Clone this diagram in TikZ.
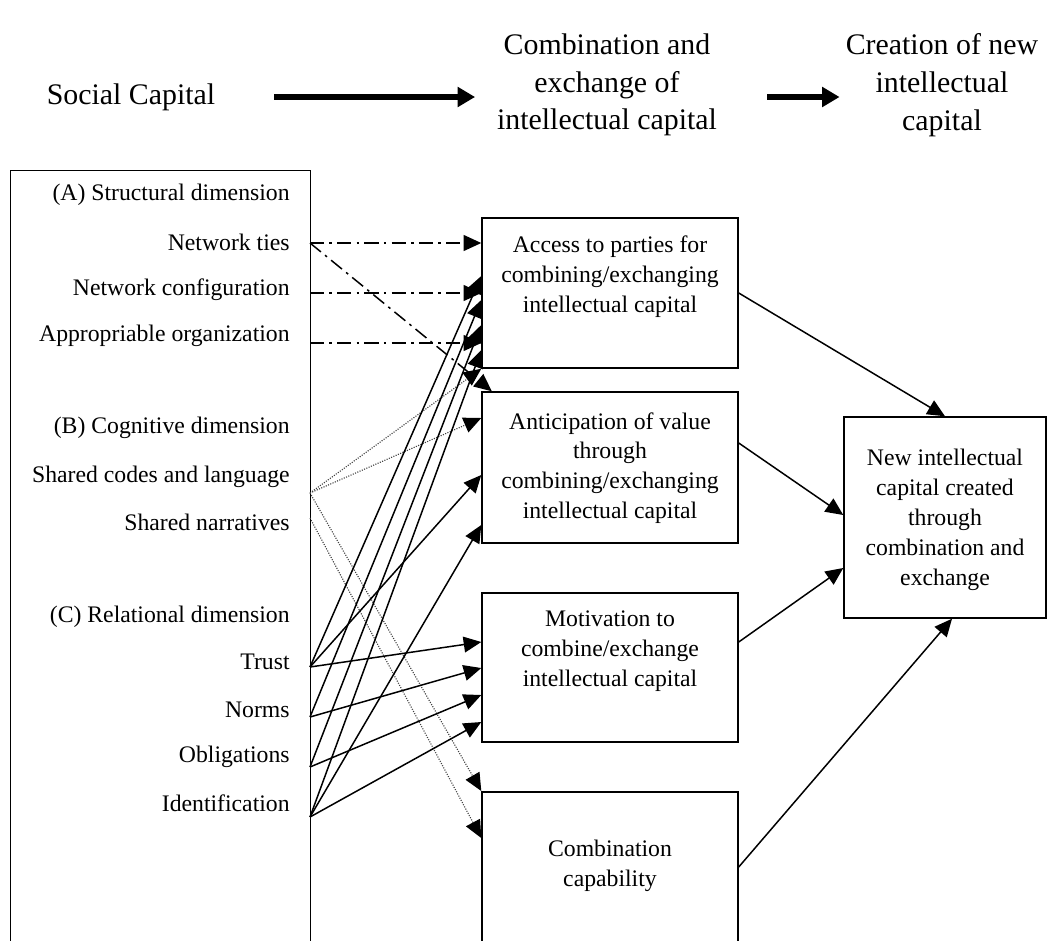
\documentclass[tikz,border=0pt]{standalone}
\usepackage{fontspec}
\setmainfont{Liberation Serif}
\usetikzlibrary{arrows.meta}

\tikzset{
	box/.style={shape=rectangle, draw=black, line width=0.85pt, minimum width=5.12cm, inner sep=0pt},
	lbl/.style={anchor=east, inner sep=0pt, font=\fontsize{13.5}{17}\selectfont},
	txt/.style={align=center, font=\fontsize{13.5}{17}\selectfont},
	head/.style={align=center, font=\fontsize{17}{21.5}\selectfont},
	link/.style={line width=0.85pt, -{Triangle[length=10pt,width=9pt]}},
	struct/.style={link, dash pattern=on 8pt off 3pt on 1.5pt off 3pt},
	cogn/.style={line width=0.65pt, black!75, dash pattern=on 0.6pt off 0.8pt, -{Triangle[length=10pt,width=9pt,color=black,fill=black]}},
	flow/.style={line width=3.2pt, -{Triangle[length=10pt,width=11pt]}}
}

\begin{document}
\begin{tikzpicture}[x=0.02cm, y=-0.02cm]
	\useasboundingbox (0,0) rectangle (1051,940);
	\clip (0,0) rectangle (1051,940);

	% headline
	\node[head] (sc) at (131,97) {Social Capital};
	\node[head] (cx) at (607,85) {Combination and\\exchange of\\intellectual capital};
	\node[head] (cn) at (942,85) {Creation of new\\intellectual\\capital};
	\path[flow, shorten <=30pt, shorten >=9pt] (sc.east) edge (sc.east -| cx.west);
	\path[flow, shorten <=25pt] (cx.east |- sc.east) edge (cn.west |- sc.east);

	% social capital dimensions
	\node[box, minimum width=6cm, minimum height=17cm, anchor=north west] (scbox) at (10,170) {};
	\node[lbl] (dima)   at (290,195) {(A) Structural dimension};
	\node[lbl] (tiesl)  at (290,242) {Network ties};
	\node[lbl] (confl)  at (290,290) {Network configuration};
	\node[lbl] (apprl)  at (290,336) {Appropriable organization};
	\node[lbl] (dimb)   at (290,428) {(B) Cognitive dimension};
	\node[lbl] (codesl) at (290,477) {Shared codes and language};
	\node[lbl] (narrl)  at (290,522) {Shared narratives};
	\node[lbl] (dimc)   at (290,617) {(C) Relational dimension};
	\node[lbl] (trustl) at (290,662) {Trust};
	\node[lbl] (normsl) at (290,710) {Norms};
	\node[lbl] (oblil)  at (290,757) {Obligations};
	\node[lbl] (identl) at (290,803) {Identification};

	\coordinate (ties)  at (310,243);
	\coordinate (conf)  at (310,293);
	\coordinate (appr)  at (310,343);
	\coordinate (codes) at (310,493);
	\coordinate (narr)  at (310,518);
	\coordinate (trust) at (310,667);
	\coordinate (norms) at (310,717);
	\coordinate (obli)  at (310,767);
	\coordinate (ident) at (310,817);

	% combination and exchange
	\node[box, minimum height=3cm]    (access) at (610,293) {};
	\node[box, minimum height=3.02cm] (antic)  at (610,467.5) {};
	\node[box, minimum height=2.98cm] (motiv)  at (610,667.5) {};
	\node[box, minimum height=4cm, anchor=north] (comb) at (610,791) {};
	\node[txt] (accesst) at (610,277) {Access to parties for\\combining/exchanging\\intellectual capital};
	\node[txt] (antict)  at (610,468) {Anticipation of value\\through\\combining/exchanging\\intellectual capital};
	\node[txt] (motivt)  at (610,651) {Motivation to\\combine/exchange\\intellectual capital};
	\node[txt] (combt)   at (610,866) {Combination\\capability};

	% new intellectual capital
	\node[box, minimum width=4.04cm, minimum height=4.02cm] (newic) at (945,517.5) {};
	\node[txt] (newict) at (945,520) {New intellectual\\capital created\\through\\combination and\\exchange};

	% structural links
	\path[struct] (ties) edge (access.west |- ties);
	\path[struct] (conf) edge (access.west |- conf);
	\path[struct] (appr) edge (access.west |- appr);
	\path[struct] (ties) edge ([xshift=6pt]antic.north west);

	% cognitive links
	\path[cogn] (codes) edge (access.south west);
	\path[cogn] (codes) edge (antic.west |- 0,418);
	\path[cogn] (codes) edge (comb.north west);
	\path[cogn] (narr) edge (comb.west |- 0,838);

	% relational links
	\path[link] (trust) edge (access.west |- 0,276);
	\path[link] (trust) edge (antic.west |- 0,475);
	\path[link] (trust) edge (motiv.west |- 0,642);
	\path[link] (norms) edge (access.west |- 0,300);
	\path[link] (norms) edge (motiv.west |- 0,668);
	\path[link] (obli) edge (access.west |- 0,325);
	\path[link] (obli) edge (motiv.west |- 0,695);
	\path[link] (ident) edge (access.west |- 0,350);
	\path[link] (ident) edge (antic.west |- 0,525);
	\path[link] (ident) edge (motiv.west |- 0,722);

	% into new intellectual capital
	\path[link] (access.east) edge (newic.north);
	\path[link] (antic.east |- 0,443) edge (newic.west |- 0,515);
	\path[link] (motiv.east |- 0,642) edge (newic.west |- 0,568);
	\path[link] (comb.east |- 0,867) edge ([xshift=4pt]newic.south);
\end{tikzpicture}
\end{document}
